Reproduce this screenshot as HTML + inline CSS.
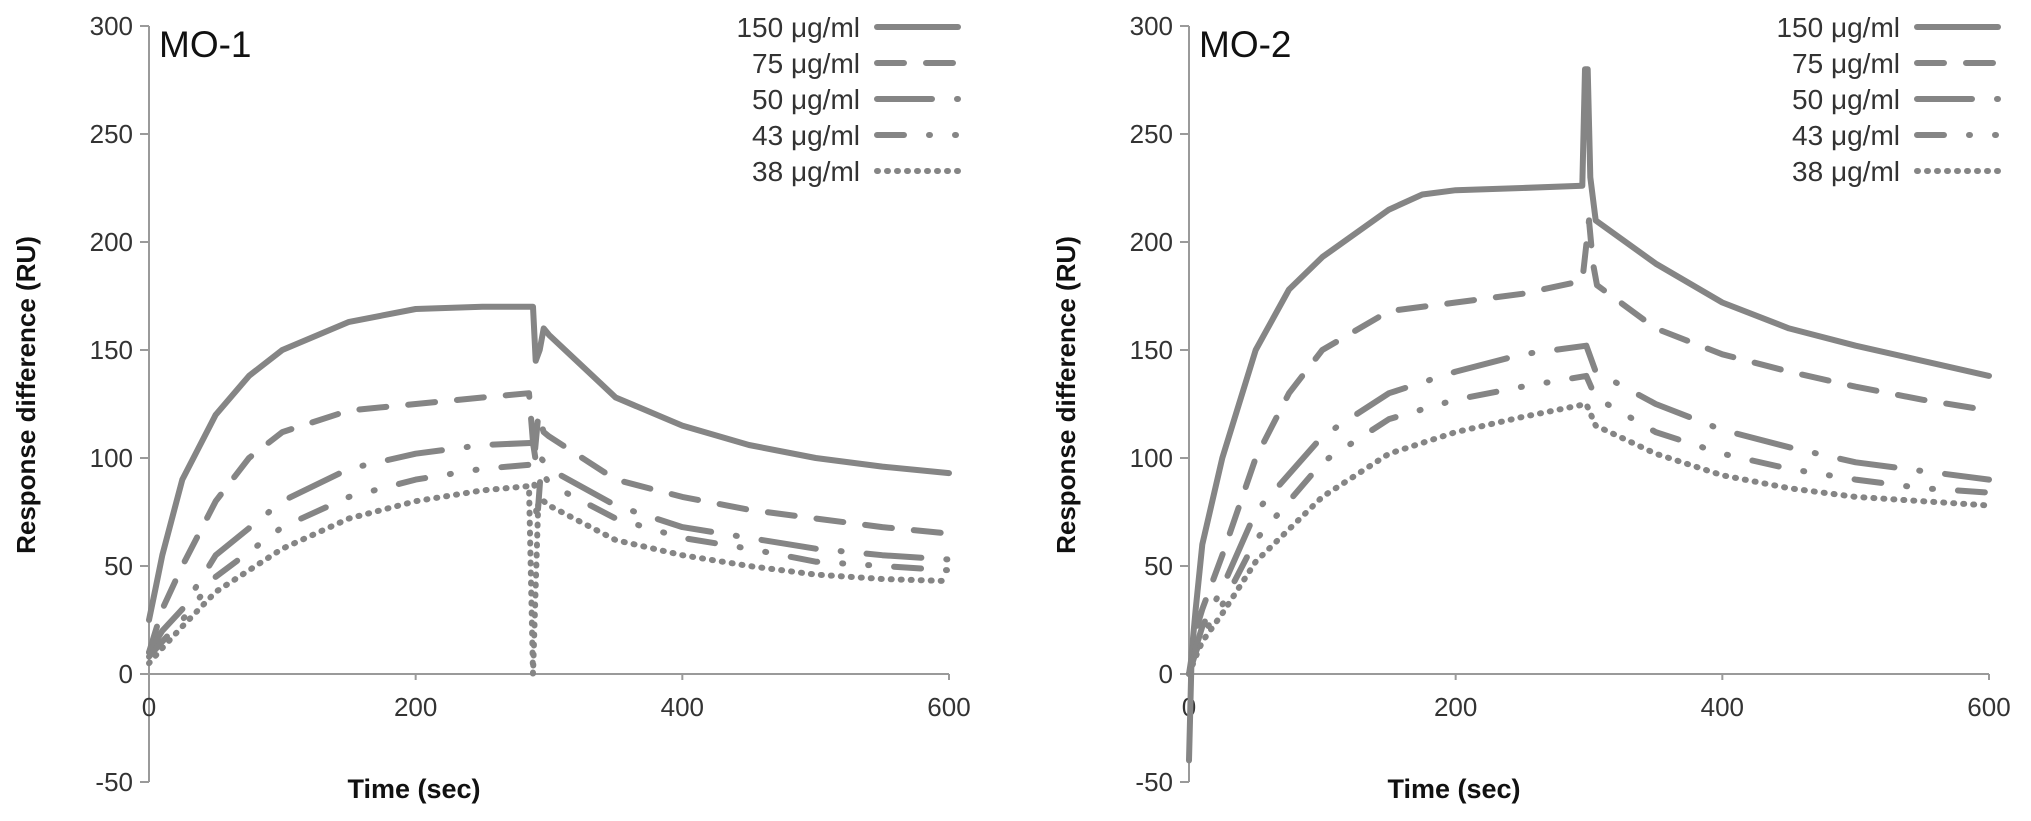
<!DOCTYPE html>
<html><head><meta charset="utf-8"><style>
html,body{margin:0;padding:0;background:#fff}
svg{display:block;font-family:"Liberation Sans",sans-serif}
</style></head><body>
<svg id="chart" width="2031" height="821" viewBox="0 0 2031 821" xmlns="http://www.w3.org/2000/svg"></svg>
<script>
// ---- data ----
const seriesLabels = ["150 μg/ml","75 μg/ml","50 μg/ml","43 μg/ml","38 μg/ml"];
const xTicks = [0,200,400,600];
const yTicks = [-50,0,50,100,150,200,250,300];
// MO-1
const mo1_t150 = [0,5,10,25,50,75,100,150,200,250,288,290,293,296,300,350,400,450,500,550,600];
const mo1_v150 = [25,40,55,90,120,138,150,163,169,170,170,145,150,160,157,128,115,106,100,96,93];
const mo1_t75 = [0,10,25,50,75,100,150,200,250,285,289,292,296,300,350,400,450,500,550,600];
const mo1_v75 = [10,30,50,80,100,112,122,125,128,130,100,120,112,110,90,82,76,72,68,65];
const mo1_t50 = [0,10,25,50,100,150,200,250,288,291,294,300,350,400,450,500,550,600];
const mo1_v50 = [10,20,30,55,80,95,102,106,107,95,100,95,78,68,63,58,55,53];
const mo1_t43 = [0,10,25,50,100,150,200,250,288,291,294,300,350,400,450,500,550,600];
const mo1_v43 = [8,15,25,45,68,82,90,95,97,70,95,88,72,63,58,52,50,48];
const mo1_t38 = [0,10,25,50,100,150,200,250,285,288,292,296,300,350,400,450,500,550,600];
const mo1_v38 = [5,12,22,38,58,72,80,85,87,0,80,80,78,62,55,50,46,44,43];
// MO-2
const mo2_t150 = [0,2,5,10,25,50,75,100,150,175,200,250,295,297,299,301,305,350,400,450,500,550,600];
const mo2_v150 = [-40,10,30,60,100,150,178,193,215,222,224,225,226,280,280,230,210,190,172,160,152,145,138];
const mo2_t75 = [0,5,10,25,50,75,100,150,200,250,295,300,303,306,350,400,450,500,550,600];
const mo2_v75 = [0,20,30,55,100,130,150,168,172,176,182,210,190,180,160,148,140,133,127,122];
const mo2_t50 = [0,5,10,25,50,100,150,200,250,298,305,350,400,450,500,550,600];
const mo2_v50 = [0,12,22,40,75,110,130,140,148,152,140,125,113,105,98,94,90];
const mo2_t43 = [0,5,10,25,50,100,150,200,250,298,305,350,400,450,500,550,600];
const mo2_v43 = [0,10,18,32,62,98,118,127,133,138,128,112,102,95,90,86,84];
const mo2_t38 = [0,5,10,25,50,100,150,200,250,298,305,350,400,450,500,550,600];
const mo2_v38 = [0,8,15,28,52,82,102,112,119,125,115,102,92,86,82,80,78];

const dashes = ["none","27 22","55 25 1 25","27 25 1 25 1 25","1 9"];
const svg = document.getElementById('chart');
const NS = "http://www.w3.org/2000/svg";
const col = "#858585";
function mk(tag, attrs, parent){const e=document.createElementNS(NS,tag);for(const k in attrs)e.setAttribute(k,attrs[k]);(parent||svg).appendChild(e);return e;}

function panel(name, x0, title, data){
  const g = mk('g',{});
  
  
  const xs = t => x0 + t*(800/600);
  const ys = v => 674 - v*(108/50);
  const ya = mk('line',{x1:x0,y1:ys(300),x2:x0,y2:ys(-50),stroke:'#9a9a9a','stroke-width':2},g);
  
  
  const xa = mk('line',{x1:x0,y1:ys(0),x2:xs(600),y2:ys(0),stroke:'#9a9a9a','stroke-width':2},g);
  
  
  yTicks.forEach(v=>{
    mk('line',{x1:x0-9,y1:ys(v),x2:x0,y2:ys(v),stroke:'#9a9a9a','stroke-width':2},g);
    const t = mk('text',{x:x0-16,y:ys(v)+9,'text-anchor':'end','font-size':26,fill:'#333'},g);
    t.textContent = v;
    
    
  });
  xTicks.forEach(v=>{
    mk('line',{x1:xs(v),y1:ys(0),x2:xs(v),y2:ys(0)+6,stroke:'#9a9a9a','stroke-width':2},g);
    const t = mk('text',{x:xs(v),y:ys(0)+42,'text-anchor':'middle','font-size':26,fill:'#333'},g);
    t.textContent = v;
    
    
  });
  const ttl = mk('text',{x:x0+10,y:57,'font-size':37,fill:'#111'},g);
  ttl.textContent = title;
  
  
  const xt = mk('text',{x:x0+265,y:798,'text-anchor':'middle','font-size':27,'font-weight':'bold',fill:'#111'},g);
  xt.textContent = 'Time (sec)';
  
  
  const yt = mk('text',{x:0,y:0,'text-anchor':'middle','font-size':26,'font-weight':'bold',fill:'#111',transform:`translate(${x0-114},395) rotate(-90)`},g);
  yt.textContent = 'Response difference  (RU)';
  
  
  data.forEach((d,i)=>{
    const pts = d[0].map((t,j)=>xs(t).toFixed(1)+','+ys(d[1][j]).toFixed(1)).join(' ');
    const p = mk('polyline',{points:pts,fill:'none',stroke:col,'stroke-width':6,'stroke-linecap':'round','stroke-linejoin':'round','stroke-dasharray':dashes[i]},g);
    
    
    const ly = 27 + i*36;
    const lt = mk('text',{x:x0+711,y:ly+10,'text-anchor':'end','font-size':28,fill:'#333'},g);
    lt.textContent = seriesLabels[i];
    
    
    const ll = mk('line',{x1:x0+728,y1:ly,x2:x0+809,y2:ly,stroke:col,'stroke-width':6,'stroke-linecap':'round','stroke-dasharray':dashes[i]},g);
    
    
  });
}
panel('mo-1',149,'MO-1',[[mo1_t150,mo1_v150],[mo1_t75,mo1_v75],[mo1_t50,mo1_v50],[mo1_t43,mo1_v43],[mo1_t38,mo1_v38]]);
panel('mo-2',1189,'MO-2',[[mo2_t150,mo2_v150],[mo2_t75,mo2_v75],[mo2_t50,mo2_v50],[mo2_t43,mo2_v43],[mo2_t38,mo2_v38]]);
</script>
</body></html>
